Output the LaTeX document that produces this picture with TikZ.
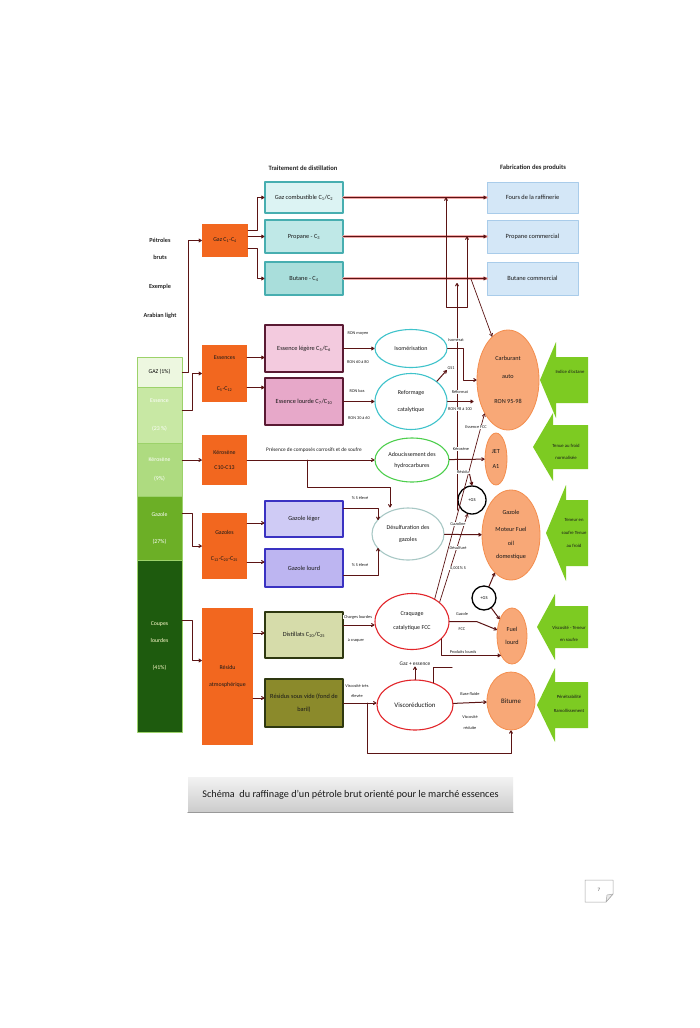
\documentclass[tikz,border=0pt]{standalone}
\usepackage{fontspec}
\setmainfont{Carlito}
\usetikzlibrary{arrows.meta,positioning,shapes.geometric}
\definecolor{linkred}{HTML}{5B1414}
\definecolor{glowred}{HTML}{F2A8A8}
\definecolor{cutorange}{HTML}{F2671F}
\definecolor{gazgreen}{HTML}{EDF7E0}
\definecolor{essgreen}{HTML}{C8E8A4}
\definecolor{kergreen}{HTML}{AEDB80}
\definecolor{gzlgreen}{HTML}{6CAF26}
\definecolor{coupgreen}{HTML}{1E5B0E}
\definecolor{stackedge}{HTML}{9CD26A}
\definecolor{cyanA}{HTML}{DCF3F3}
\definecolor{cyanB}{HTML}{BFE8E7}
\definecolor{cyanC}{HTML}{A9DEDB}
\definecolor{cyanedge}{HTML}{47AEB0}
\definecolor{pinkA}{HTML}{F3CADE}
\definecolor{pinkB}{HTML}{E7A8C9}
\definecolor{pinkedge}{HTML}{5A1A33}
\definecolor{lavA}{HTML}{CFCBF5}
\definecolor{lavB}{HTML}{BDB5F1}
\definecolor{lavedge}{HTML}{3A32C2}
\definecolor{oliveA}{HTML}{D6DCAA}
\definecolor{oliveB}{HTML}{8B8A2B}
\definecolor{oliveedge}{HTML}{2E3810}
\definecolor{prodblue}{HTML}{D4E7F7}
\definecolor{prodedge}{HTML}{A9CCEA}
\definecolor{tealring}{HTML}{3FC3CB}
\definecolor{greenring}{HTML}{4DCF4D}
\definecolor{grayring}{HTML}{A8C8C5}
\definecolor{redring}{HTML}{E2252A}
\definecolor{fuelorange}{HTML}{F8A877}
\definecolor{fueledge}{HTML}{F48E4E}
\definecolor{hintgreen}{HTML}{7DCB22}
\newcommand{\fsz}[1]{\fontsize{#1}{#1}\selectfont}

\begin{document}
\begin{tikzpicture}[x=1pt,y=-1pt,line cap=round,line join=round,>={To[length=3.4pt,width=3.8pt]},
  conn/.style={draw=linkred,line width=1pt},
  glowline/.style={draw=glowred,line width=2.8pt},
  headlbl/.style={font=\bfseries\fsz{6.6},text=black!85},
  notelbl/.style={font=\bfseries\fsz{6.2},text=black!85,align=center},
  stackbox/.style={draw=stackedge,line width=.8pt,minimum width=45pt,inner sep=0pt,align=center,font=\fsz{5.8}},
  cutbox/.style={fill=cutorange,minimum width=45pt,inner sep=0pt,align=center,font=\fsz{5.9},text=black!90},
  unitbox/.style={draw,line width=1.1pt,minimum width=78pt,inner sep=0pt,align=center,font=\fsz{6.3},text=black!90},
  prodbox/.style={fill=prodblue,draw=prodedge,line width=.8pt,minimum width=91pt,inner sep=0pt,font=\fsz{6.4},text=black!90},
  procell/.style={ellipse,draw,line width=1.1pt,fill=white,inner sep=0pt,align=center,font=\fsz{6},text=black!90},
  outell/.style={ellipse,fill=fuelorange,draw=fueledge,line width=.8pt,inner sep=0pt,align=center,font=\fsz{6.2},text=black!90},
  gsring/.style={circle,draw=black,line width=1.3pt,fill=white,inner sep=0pt,font=\fsz{4.5}},
  flowlbl/.style={font=\fsz{4.3},fill=white,inner sep=.6pt,align=center,text=black!90},
  hintlbl/.style={font=\fsz{4.7},align=center,text=black!90}]
\path[use as bounding box,fill=white] (0,0) rectangle (700,1028);

\node[headlbl] (hdist) at (303,168) {Traitement de distillation};
\node[headlbl] (hfab) at (533,168) {Fabrication des produits};
\node[notelbl] (crude) at (160,249) {Pétroles\\[11pt]bruts};
\node[notelbl] (exmpl) at (160,287) {Exemple};
\node[notelbl] (arablt) at (160,316) {Arabian light};

\node[stackbox,fill=gazgreen,minimum height=30pt] (gazb) at (159.5,372) {GAZ (1\%)};
\node[stackbox,fill=essgreen,minimum height=56pt,text=white] (essb) at (159.5,415) {Essence\\[23pt](23 \%)};
\node[stackbox,fill=kergreen,minimum height=53pt,text=white] (kerb) at (159.5,469.5) {Kérosène\\[14pt](9\%)};
\node[stackbox,fill=gzlgreen,minimum height=64pt,text=white] (gzlb) at (159.5,528) {Gazole\\[21pt](27\%)};
\node[stackbox,fill=coupgreen,minimum height=172pt,text=yellow!20] (coupb) at (159.5,646) {Coupes\\[11pt]lourdes\\[21pt](41\%)};

\node[cutbox,minimum width=46pt,minimum height=33pt] (gazc) at (225,240.5) {Gaz C\textsubscript{1}-C\textsubscript{4}};
\node[cutbox,minimum height=57pt] (essc) at (224.5,373.5) {Essences\\[25pt]C\textsubscript{5}-C\textsubscript{12}};
\node[cutbox,minimum height=50pt] (kerc) at (224.5,460) {Kérosène\\[10pt]C10-C13};
\node[cutbox,minimum height=66pt] (gzlc) at (224.5,546) {Gazoles\\[21pt]C\textsubscript{13}-C\textsubscript{20}-C\textsubscript{25}};
\node[cutbox,minimum width=51pt,minimum height=137pt] (resc) at (227.5,676.5) {Résidu\\[11pt]atmosphérique};

\node[unitbox,fill=cyanA,draw=cyanedge,minimum height=31pt] (gcomb) at (304,197.5) {Gaz combustible C\textsubscript{1}/C\textsubscript{2}};
\node[unitbox,fill=cyanB,draw=cyanedge,minimum height=33pt] (prop) at (304,236.5) {Propane - C\textsubscript{3}};
\node[unitbox,fill=cyanC,draw=cyanedge,minimum height=33pt] (but) at (304,278.5) {Butane - C\textsubscript{4}};
\node[unitbox,fill=pinkA,draw=pinkedge,minimum height=47pt] (essl) at (304,348.5) {Essence légère C\textsubscript{5}/C\textsubscript{6}};
\node[unitbox,fill=pinkB,draw=pinkedge,minimum height=47pt] (essh) at (304,401.5) {Essence lourde C\textsubscript{7}/C\textsubscript{10}};
\node[unitbox,fill=lavA,draw=lavedge,minimum height=36pt] (gzll) at (304,519) {Gazole léger};
\node[unitbox,fill=lavB,draw=lavedge,minimum height=38pt] (gzlh) at (304,568) {Gazole lourd};
\node[unitbox,fill=oliveA,draw=oliveedge,minimum height=46pt] (dist) at (304,635) {Distillats C\textsubscript{20}/C\textsubscript{25}};
\node[unitbox,fill=oliveB,draw=oliveedge,minimum height=48pt] (rsv) at (304,703) {Résidus sous vide (fond de\\[6pt]baril)};

\node[prodbox,minimum height=31pt] (four) at (532.5,197.5) {Fours de la raffinerie};
\node[prodbox,minimum height=33pt] (propc) at (532.5,236.5) {Propane commercial};
\node[prodbox,minimum height=33pt] (butc) at (532.5,278.5) {Butane commercial};

\node[procell,draw=tealring,minimum width=72pt,minimum height=38pt] (isom) at (411,348.5) {Isomérisation};
\node[procell,draw=tealring,minimum width=72pt,minimum height=56pt] (refo) at (411,401.5) {Reformage\\[11pt]catalytique};
\node[procell,draw=greenring,minimum width=74pt,minimum height=44pt] (adou) at (412,460) {Adoucissement des\\[5pt]hydrocarbures};
\node[procell,draw=grayring,minimum width=72pt,minimum height=52pt] (desu) at (408,534) {Désulfuration des\\[6pt]gazoles};
\node[procell,draw=redring,minimum width=74pt,minimum height=56pt] (fcc) at (412,621.5) {Craquage\\[8pt]catalytique FCC};
\node[procell,draw=redring,minimum width=76pt,minimum height=50pt,font=\fsz{6.8}] (visc) at (415,705) {Viscoréduction};

\node[outell,minimum width=62pt,minimum height=100pt] (carb) at (508,380) {Carburant\\[11pt]auto\\[19pt]RON 95-98};
\node[outell,minimum width=22pt,minimum height=52pt] (jet) at (496,459) {JET\\[8pt]A1};
\node[outell,minimum width=58pt,minimum height=90pt] (gzm) at (511,535) {Gazole\\[10pt]Moteur Fuel\\[8pt]oil\\[7pt]domestique};
\node[outell,minimum width=30pt,minimum height=56pt] (fuel) at (512,636) {Fuel\\[7pt]lourd};
\node[outell,minimum width=48pt,minimum height=58pt,font=\fsz{6.8}] (bit) at (511,701) {Bitume};

\node[gsring,minimum size=28pt] (gs1) at (472,500) {+GS};
\node[gsring,minimum size=24pt] (gs2) at (484,598) {+GS};

\draw[conn,->] (gazb.east) -- ++(6,0) |- (gazc.west);
\draw[conn,->] ([yshift=5pt]essb.east) -- ++(10,0) |- (essc.west);
\draw[conn,->] (kerb.east |- kerc.west) -- (kerc.west);
\draw[conn,->] ([yshift=15pt]gzlb.east) -- ++(10,0) |- (gzlc.west);
\draw[conn,->] ([yshift=26pt]coupb.east) -- ++(10,0) |- ([yshift=16pt]resc.west);

\draw[conn,->] ([yshift=10pt]gazc.east) -- ++(9,0) |- (gcomb.west);
\draw[conn,->] (gazc.east |- prop.west) -- (prop.west);
\draw[conn,->] ([yshift=-8pt]gazc.east) -- ++(9,0) |- (but.west);
\draw[conn,->] ([yshift=16pt]essc.east) -- ([yshift=16pt]essc.east -| essl.west);
\draw[conn,->] ([yshift=-14pt]essc.east) -- ([yshift=-14pt]essc.east -| essh.west);
\draw[conn,->] ([yshift=23pt]gzlc.east) -- ([yshift=23pt]gzlc.east -| gzll.west);
\draw[conn,->] ([yshift=-16pt]gzlc.east) -- ([yshift=-16pt]gzlc.east -| gzlh.west);
\draw[conn,->] ([yshift=43.5pt]resc.east) -- ([yshift=43.5pt]resc.east -| dist.west);
\draw[conn,->] ([yshift=-21.5pt]resc.east) -- ([yshift=-21.5pt]resc.east -| rsv.west);

\draw[glowline] (gcomb.east) -- (four.west);
\draw[glowline] (prop.east) -- (propc.west);
\draw[glowline] (but.east) -- (butc.west);
\draw[conn,->] (gcomb.east) -- (four.west);
\draw[conn,->] (prop.east) -- (propc.west);
\draw[conn,->] (but.east) -- (butc.west);

\coordinate (ul) at (446,307);
\coordinate (ur) at (467,307);
\draw[conn,<->] (ul |- four.west) -- (ul) -- (ur) -- (ur |- propc.west);
\coordinate (gplbot) at (457,510);
\coordinate (gpltop) at (457,283);
\draw[conn,->] (gplbot) -- (gpltop);
\coordinate (butj) at (471,279);
\draw[conn,->,line width=.7pt] (butj) -- (carb);

\draw[conn,->] (essl.east) -- (isom.west);
\draw[conn,->] (essh.east) -- (refo.west);
\draw[conn,->] (isom.east) -- ++(16,0) |- (carb.west);
\draw[conn,->,shorten >=3pt] (refo.east) -- (refo.east -| carb.west);
\draw[conn,->] (kerc.east) -- (adou.west);
\coordinate (kerj) at (307,460);
\coordinate (kerk) at (390,487);
\draw[conn,->] (kerj) |- (kerk) -- (kerk |- desu.north);
\draw[conn,->] (adou) -- (jet);
\draw[conn,->,shorten >=14pt] ([yshift=11pt]gzll.east) -| ([xshift=-30pt]desu.center);
\draw[conn,->,shorten >=14pt] ([yshift=-7pt]gzlh.east) -| ([xshift=-30pt]desu.center);
\draw[conn,->] (desu) -- (gzm);
\draw[conn,->] ([yshift=10pt]dist.east) -- ([yshift=10pt]dist.east -| fcc.west);
\draw[conn,->] (fcc.east) -- ++(27,0) -- (fuel);
\draw[conn,->] (fcc.-30) |- (fuel.-120);
\draw[conn,->,line width=.7pt] (fcc.45) -- (carb.-125);
\draw[conn,->,line width=.7pt] (fcc.35) -- (gs1);
\draw[conn,->] (gs2) -- (gzm);
\draw[conn,->] (gs2) -- (fuel);
\draw[conn,->] (rsv.east) -- (rsv.east -| visc.west);
\coordinate (rsvj) at (367,703);
\draw[conn,->] (rsvj) -- ++(0,50) -| (bit.south);
\draw[conn,->] (visc) -- (bit);
\coordinate (viscj) at (452,667);
\draw[conn] (visc.50) |- (viscj);

\node[flowlbl] (lronmoy) at (358,333) {RON moyen};
\node[flowlbl] (lron6080) at (358,362) {RON 60 à 80};
\node[flowlbl] (lronbas) at (357,391) {RON bas};
\node[flowlbl] (lron3060) at (359,418) {RON 30 à 60};
\node[flowlbl,font=\fsz{5.3}] (lcorr) at (314,450) {Présence de composés corrosifs et de soufre};
\node[flowlbl] (lsel1) at (360,498) {\% S élevé};
\node[flowlbl] (lsel2) at (360,565) {\% S élevé};
\node[flowlbl] (lchl) at (358,617) {Charges lourdes};
\node[flowlbl] (lacraq) at (356,640) {à craquer};
\node[flowlbl] (lvisc1) at (357,686) {Viscosité très};
\node[flowlbl] (lvisc2) at (357,696) {élevée};
\node[flowlbl] (lisomer) at (456,340) {Isomérat};
\node[flowlbl] (lgs1) at (451,368) {GS1};
\node[flowlbl] (lreform) at (460,392) {Réformat};
\node[flowlbl] (lron98) at (460,409) {RON 98 à 100};
\node[flowlbl] (lessfcc) at (476,427) {Essence FCC};
\node[flowlbl] (lkero) at (461,449) {Kérosène};
\node[flowlbl] (lresid) at (463,472) {Résidu};
\node[flowlbl] (lgasol) at (458,524) {Gazoline};
\node[flowlbl] (ldesulf) at (458,548) {Désulfuré};
\node[flowlbl] (l0001) at (458,568) {0,001\% S};
\node[flowlbl] (lgzfcc1) at (462,614) {Gazole};
\node[flowlbl] (lgzfcc2) at (462,629) {FCC};
\node[flowlbl] (lprodl) at (463,652) {Produits lourds};
\node[flowlbl,font=\fsz{5.4}] (lgazess) at (415,664) {Gaz + essence};
\node[flowlbl] (lbasef) at (470,694) {Base fluide};
\node[flowlbl] (lvred1) at (470,717) {Viscosité};
\node[flowlbl] (lvred2) at (470,728) {réduite};

\draw[conn,->] (refo.north east) -- (lgs1.south west);
\draw[conn,->] (lresid.south east) -- (gs1.north);
\draw[conn,->] (visc.north) -- (lgazess.south);

\foreach \tx/\ty/\bx/\hh/\sh in {540/380/556/38/23,533/447/553/34/22,546/533/566/48/33,537/627/555/33/21,537/705/555/37/23}
  \fill[hintgreen] (\tx,\ty) -- (\bx,\ty-\hh) -- (\bx,\ty-\sh) -- (588,\ty-\sh) -- (588,\ty+\sh) -- (\bx,\ty+\sh) -- (\bx,\ty+\hh) -- cycle;
\node[hintlbl] (hoct) at (570,372) {Indice d'octane};
\node[hintlbl] (hfroid) at (566,452) {Tenue au froid\\[8pt]normalisée};
\node[hintlbl] (hsoufre) at (574,533) {Teneur en\\[8pt]soufre Tenue\\[8pt]au froid};
\node[hintlbl] (hvisc) at (569,634) {Viscosité - Teneur\\[8pt]en soufre};
\node[hintlbl] (hpene) at (569,704) {Pénétrabilité\\[9pt]Ramollissement};

\node[top color=black!5,bottom color=black!20,minimum width=325pt,minimum height=35pt,inner sep=0pt,font=\fsz{10.2},text=black!90] (caption) at (350.5,794.5) {Schéma\ \ du raffinage d'un pétrole brut orienté pour le marché essences};
\draw[black!40,line width=1pt] (caption.south west) -- (caption.south east);

\draw[black!35,fill=white,line width=.5pt] (585,880) -- (613,880) -- (613,894) -- (606,902) -- (585,902) -- cycle;
\draw[black!35,fill=black!8,line width=.5pt] (613,894) -- (607,895) -- (606,902) -- cycle;
\node[font=\fsz{5},text=black!70] (pagenum) at (599,890) {7};
\end{tikzpicture}
\end{document}
